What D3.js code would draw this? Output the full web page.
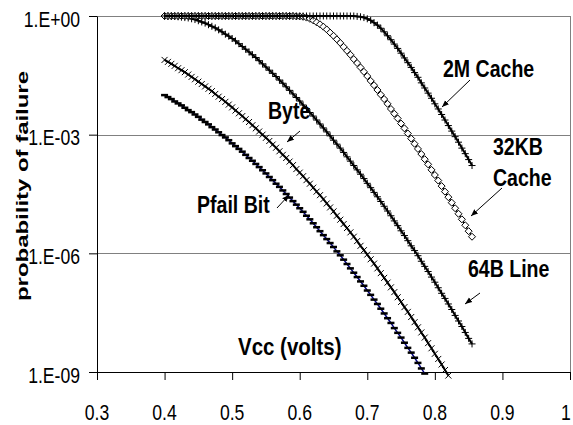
<!DOCTYPE html>
<html>
<head>
<meta charset="utf-8">
<script src="https://cdnjs.cloudflare.com/ajax/libs/d3/7.8.5/d3.min.js"></script>
<style>
body{margin:0;background:#fff;}
text{font-family:"Liberation Sans",Arial,Helvetica,sans-serif;}
</style>
</head>
<body>
<div id="container"></div>
<script>
// supply voltage of each point (volts)
var vcc = [0.4,0.405,0.41,0.415,0.42,0.425,0.43,0.435,0.44,0.445,
           0.45,0.455,0.46,0.465,0.47,0.475,0.48,0.485,0.49,0.495,
           0.5,0.505,0.51,0.515,0.52,0.525,0.53,0.535,0.54,0.545,
           0.55,0.555,0.56,0.565,0.57,0.575,0.58,0.585,0.59,0.595,
           0.6,0.605,0.61,0.615,0.62,0.625,0.63,0.635,0.64,0.645,
           0.65,0.655,0.66,0.665,0.67,0.675,0.68,0.685,0.69,0.695,
           0.7,0.705,0.71,0.715,0.72,0.725,0.73,0.735,0.74,0.745,
           0.75,0.755,0.76,0.765,0.77,0.775,0.78,0.785,0.79,0.795,
           0.8,0.805,0.81,0.815,0.82,0.825,0.83,0.835,0.84,0.845,
           0.85,0.855];

// log10 of probability of failure, one value per vcc point
var pfailBit = [-2.00,-2.05,-2.10,-2.16,-2.21,-2.26,-2.32,-2.38,-2.43,-2.49,
                -2.55,-2.62,-2.68,-2.74,-2.81,-2.87,-2.94,-3.01,-3.07,-3.14,
                -3.22,-3.29,-3.36,-3.43,-3.51,-3.59,-3.66,-3.74,-3.82,-3.90,
                -3.98,-4.07,-4.15,-4.24,-4.32,-4.41,-4.50,-4.59,-4.68,-4.77,
                -4.86,-4.95,-5.05,-5.14,-5.24,-5.34,-5.44,-5.54,-5.64,-5.74,
                -5.84,-5.95,-6.05,-6.16,-6.27,-6.38,-6.49,-6.60,-6.71,-6.82,
                -6.94,-7.05,-7.17,-7.28,-7.40,-7.52,-7.64,-7.76,-7.89,-8.01,
                -8.13,-8.26,-8.39,-8.51,-8.64,-8.77,-8.91,-9.04];

var byteFail = [-1.11,-1.16,-1.21,-1.26,-1.32,-1.37,-1.42,-1.48,-1.54,-1.60,
                -1.66,-1.72,-1.78,-1.84,-1.90,-1.97,-2.04,-2.10,-2.17,-2.24,
                -2.31,-2.39,-2.46,-2.53,-2.61,-2.68,-2.76,-2.84,-2.92,-3.00,
                -3.08,-3.16,-3.25,-3.33,-3.42,-3.51,-3.59,-3.68,-3.77,-3.87,
                -3.96,-4.05,-4.15,-4.24,-4.34,-4.44,-4.53,-4.63,-4.74,-4.84,
                -4.94,-5.05,-5.15,-5.26,-5.36,-5.47,-5.58,-5.69,-5.81,-5.92,
                -6.03,-6.15,-6.26,-6.38,-6.50,-6.62,-6.74,-6.86,-6.98,-7.11,
                -7.23,-7.36,-7.48,-7.61,-7.74,-7.87,-8.00,-8.13,-8.27,-8.40,
                -8.54,-8.67,-8.81,-8.95,-9.09];

var line64B = [0,-0.01,-0.01,-0.01,-0.02,-0.03,-0.04,-0.05,-0.07,-0.09,
               -0.12,-0.15,-0.18,-0.22,-0.26,-0.30,-0.35,-0.40,-0.46,-0.51,
               -0.57,-0.63,-0.70,-0.77,-0.84,-0.91,-0.98,-1.05,-1.13,-1.21,
               -1.29,-1.37,-1.45,-1.53,-1.62,-1.70,-1.79,-1.88,-1.97,-2.06,
               -2.15,-2.25,-2.34,-2.44,-2.53,-2.63,-2.73,-2.83,-2.93,-3.03,
               -3.14,-3.24,-3.34,-3.45,-3.56,-3.67,-3.78,-3.89,-4.00,-4.11,
               -4.23,-4.34,-4.46,-4.57,-4.69,-4.81,-4.93,-5.05,-5.18,-5.30,
               -5.43,-5.55,-5.68,-5.81,-5.93,-6.06,-6.20,-6.33,-6.46,-6.60,
               -6.73,-6.87,-7.01,-7.14,-7.28,-7.42,-7.57,-7.71,-7.85,-8.00,
               -8.15,-8.29];

var cache32KB = [0,0,0,0,0,0,0,0,0,0,
                 0,0,0,0,0,0,0,0,0,0,
                 0,0,0,0,0,0,0,0,0,0,
                 0,0,0,0,0,0,0,0,0,-0.01,
                 -0.01,-0.02,-0.04,-0.07,-0.11,-0.16,-0.21,-0.27,-0.34,-0.42,
                 -0.50,-0.59,-0.68,-0.78,-0.88,-0.98,-1.09,-1.19,-1.30,-1.41,
                 -1.52,-1.64,-1.75,-1.87,-1.99,-2.10,-2.22,-2.35,-2.47,-2.59,
                 -2.72,-2.84,-2.97,-3.10,-3.23,-3.36,-3.49,-3.62,-3.75,-3.89,
                 -4.02,-4.16,-4.30,-4.44,-4.58,-4.72,-4.86,-5.00,-5.14,-5.29,
                 -5.44,-5.58];

var cache2M = [0,0,0,0,0,0,0,0,0,0,
               0,0,0,0,0,0,0,0,0,0,
               0,0,0,0,0,0,0,0,0,0,
               0,0,0,0,0,0,0,0,0,0,
               0,0,0,0,0,0,0,0,0,0,
               0,0,0,0,0,0,0,-0.01,-0.02,-0.04,
               -0.07,-0.11,-0.17,-0.23,-0.31,-0.40,-0.50,-0.60,-0.71,-0.82,
               -0.94,-1.06,-1.18,-1.30,-1.43,-1.55,-1.69,-1.82,-1.95,-2.08,
               -2.22,-2.35,-2.49,-2.63,-2.77,-2.91,-3.05,-3.19,-3.34,-3.48,
               -3.63,-3.78];

var xTicks = [0.3,0.4,0.5,0.6,0.7,0.8,0.9,1];
var xTickLabels = ["0.3","0.4","0.5","0.6","0.7","0.8","0.9","1"];
var yTicks = [0,-3,-6,-9];
var yTickLabels = ["1.E+00","1.E-03","1.E-06","1.E-09"];

var series = [
  {name:"Pfail Bit", values:pfailBit, marker:"dash", color:"#000080", width:1.5},
  {name:"Byte", values:byteFail, marker:"x", color:"#000", width:2},
  {name:"64B Line", values:line64B, marker:"plus", color:"#000", width:2},
  {name:"32KB Cache", values:cache32KB, marker:"diamond", color:"#000", width:1.5},
  {name:"2M Cache", values:cache2M, marker:"plus", color:"#000", width:2}
];

var svg = d3.select("div#container").append("svg").attr("width",573).attr("height",425),
    margin = {top:16, bottom:53, left:97, right:3},
    width = 573 - margin.left - margin.right,
    height = 425 - margin.top - margin.bottom;

var g = svg.append("g").attr("transform","translate("+ margin.left +","+ margin.top +")");

var xScale = d3.scaleLinear().domain([0.3,1]).range([0,width]);
var yScale = d3.scaleLog().domain([1e-9,1]).range([height,0]);

function px(i) { return xScale(vcc[i]); }
function py(e) { return yScale(Math.pow(10,e)); }

// gridlines and right border
g.selectAll(".grid").data(yTicks.filter(function(e){ return e > -9; })).enter()
  .append("line")
  .attr("x1",0).attr("x2",width)
  .attr("y1",function(e){ return Math.round(py(e)) + 0.5; })
  .attr("y2",function(e){ return Math.round(py(e)) + 0.5; })
  .attr("stroke","#808080").attr("stroke-width",1);
g.append("line").attr("x1",width+0.5).attr("x2",width+0.5).attr("y1",0).attr("y2",height)
  .attr("stroke","#808080").attr("stroke-width",1);

// axes
var xAxis = d3.axisBottom(xScale).tickValues(xTicks).tickSize(8).tickSizeOuter(0).tickFormat("");
var yAxis = d3.axisLeft(yScale).tickValues(yTicks.map(function(e){ return Math.pow(10,e); }))
  .tickSize(8).tickSizeOuter(0).tickFormat("");

var gx = g.append("g").attr("transform","translate(0,"+ height +")").call(xAxis);
var gy = g.append("g").call(yAxis);
[gx,gy].forEach(function(a){
  a.selectAll("path,line").attr("stroke","#000").attr("stroke-width",1);
});

// tick labels (the picture's font is narrow, so squeeze it)
g.selectAll(".xlab").data(xTicks).enter().append("text")
  .attr("transform",function(d){ return "translate("+ Math.min(xScale(d), width-4) +","+ (height+48) +") scale(0.8,1)"; })
  .attr("text-anchor","middle")
  .style("font-size","22px")
  .text(function(d,i){ return xTickLabels[i]; });

g.selectAll(".ylab").data(yTicks).enter().append("text")
  .attr("transform",function(d){ return "translate(-17,"+ (py(d)+10.5) +") scale(0.8,1)"; })
  .attr("text-anchor","end")
  .style("font-size","22px")
  .text(function(d,i){ return yTickLabels[i]; });

// series lines and markers
var line = d3.line()
  .x(function(d,i){ return px(i); })
  .y(function(d){ return py(d); });

series.forEach(function(s){
  var sg = g.append("g");
  sg.append("path")
    .datum(s.values)
    .attr("d",line)
    .attr("fill","none")
    .attr("stroke",s.color)
    .attr("stroke-width",s.width);

  var pts = sg.selectAll(null).data(s.values).enter();
  if (s.marker == "dash") {
    pts.append("rect")
      .attr("x",function(d,i){ return px(i) - 3.5; })
      .attr("y",function(d){ return py(d) - 1.25; })
      .attr("width",7).attr("height",2.5)
      .attr("fill","#000");
  } else {
    var shape = {
      x: "M-3,-3L3,3M-3,3L3,-3",
      plus: "M-3.5,0H3.5M0,-3.5V3.5",
      diamond: "M0,-3.5L3.5,0L0,3.5L-3.5,0Z"
    }[s.marker];
    pts.append("path")
      .attr("d",shape)
      .attr("transform",function(d,i){ return "translate("+ px(i) +","+ py(d) +")"; })
      .attr("fill", s.marker == "diamond" ? "#fff" : "none")
      .attr("stroke","#000")
      .attr("stroke-width",1);
  }
});

// arrows from labels to curves
svg.append("defs").append("marker")
  .attr("id","head").attr("viewBox","0 0 10 10")
  .attr("refX",10).attr("refY",5)
  .attr("markerWidth",7).attr("markerHeight",7)
  .attr("orient","auto")
  .append("path").attr("d","M0,1L10,5L0,9Z").attr("fill","#000");

var arrows = [
  [470,80,442,107],
  [502,188,471,216],
  [480,293,465,304],
  [300,131,287,142],
  [277,208,289,195]
];
svg.selectAll(".arrow").data(arrows).enter().append("line")
  .attr("x1",function(d){ return d[0]; }).attr("y1",function(d){ return d[1]; })
  .attr("x2",function(d){ return d[2]; }).attr("y2",function(d){ return d[3]; })
  .attr("stroke","#000").attr("stroke-width",1)
  .attr("marker-end","url(#head)");

// labels
var labels = [
  {t:"2M Cache", x:443, y:77, s:0.85},
  {t:"32KB", x:493, y:155, s:0.85},
  {t:"Cache", x:493, y:186, s:0.85},
  {t:"64B Line", x:468, y:277, s:0.85},
  {t:"Byte", x:268, y:119, s:0.85},
  {t:"Pfail Bit", x:197, y:213, s:0.85},
  {t:"Vcc (volts)", x:238, y:355, s:0.89}
];
svg.selectAll(".lab").data(labels).enter().append("text")
  .attr("transform",function(d){ return "translate("+ d.x +","+ d.y +") scale("+ d.s +",1)"; })
  .style("font-size","23px").style("font-weight","bold")
  .text(function(d){ return d.t; });

svg.append("text")
  .attr("transform","translate(28,186) rotate(-90) scale(1,0.75)")
  .attr("text-anchor","middle")
  .attr("textLength",230).attr("lengthAdjust","spacingAndGlyphs")
  .style("font-size","22px").style("font-weight","bold")
  .text("probability of failure");
</script>
</body>
</html>
